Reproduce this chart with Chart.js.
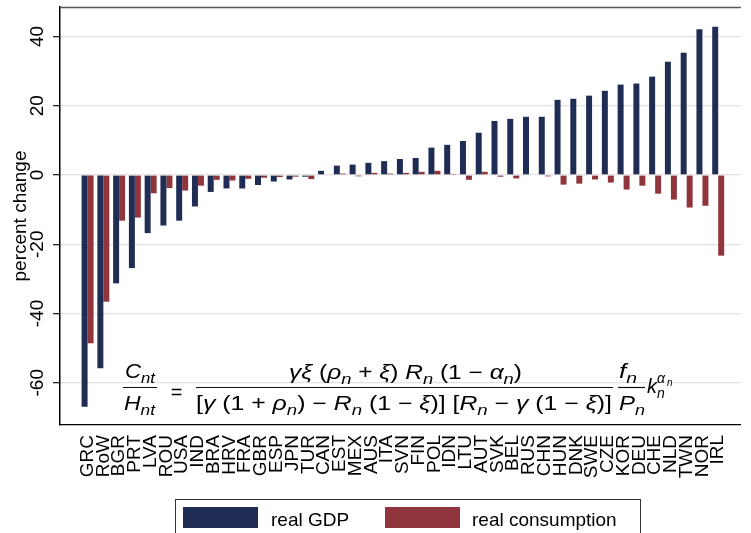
<!DOCTYPE html>
<html>
<head>
<meta charset="utf-8">
<title>Real GDP and real consumption, percent change</title>
<script src="https://cdn.jsdelivr.net/npm/chart.js@4.4.1/dist/chart.umd.min.js"></script>
<style>
  html, body { margin: 0; padding: 0; background: #fff; }
  #wrap { width: 751px; height: 533px; }
</style>
</head>
<body>
<div id="wrap"><canvas id="chart" width="751" height="533"></canvas></div>
<script>
// Data
const countries = ['GRC', 'RoW', 'BGR', 'PRT', 'LVA', 'ROU', 'USA', 'IND', 'BRA', 'HRV',
  'FRA', 'GBR', 'ESP', 'JPN', 'TUR', 'CAN', 'EST', 'MEX', 'AUS', 'ITA',
  'SVN', 'FIN', 'POL', 'IDN', 'LTU', 'AUT', 'SVK', 'BEL', 'RUS', 'CHN',
  'HUN', 'DNK', 'SWE', 'CZE', 'KOR', 'DEU', 'CHE', 'NLD', 'TWN', 'NOR', 'IRL'];

const realGdp = [-66.9, -55.8, -31.3, -26.9, -16.8, -14.6, -13.2, -9.1, -4.9, -3.9,
  -3.9, -2.9, -1.9, -1.3, -0.5, 1.2, 2.7, 3.0, 3.5, 4.0,
  4.6, 4.9, 7.9, 8.7, 9.8, 12.2, 15.6, 16.2, 16.8, 16.8,
  21.7, 22.0, 22.9, 24.3, 26.1, 26.4, 28.4, 32.7, 35.3, 42.1, 42.8];

const realConsumption = [-48.6, -36.6, -13.2, -12.3, -5.3, -3.8, -4.5, -3.1, -1.4, -1.6,
  -1.1, -0.8, -0.6, -0.5, -1.2, -0.2, 0.4, -0.4, 0.6, 0.4,
  0.6, 0.9, 1.2, 0.3, -1.4, 0.9, -0.5, -1.0, 0.2, -0.4,
  -2.8, -2.5, -1.3, -2.2, -4.2, -3.1, -5.4, -7.1, -9.4, -8.9, -23.3];

const yTicks = [-60, -40, -20, 0, 20, 40];
const seriesNames = ['real GDP', 'real consumption'];
const yTitle = 'percent change';

const NAVY = '#1f2d55';
const MAROON = '#90353b';
const FONT = '"Liberation Sans", Arial, Helvetica, sans-serif';
const MATH_FONT = '"Liberation Sans", "DejaVu Sans", sans-serif';

// draws a run of math pieces, stretched to fit between x0 and x1
// kinds: v = italic variable, r = upright, s = subscript
function drawMath(ctx, parts, x0, x1, baseline, size) {
    const fonts = {
        v: `italic ${size}px ${MATH_FONT}`,
        r: `${size}px ${MATH_FONT}`,
        s: `italic ${Math.round(size * 0.74)}px ${MATH_FONT}`
    };
    const shift = { v: 0, r: 0, s: size * 0.25 };
    let total = 0;
    const widths = parts.map(([t, k]) => {
        ctx.font = fonts[k];
        const w = ctx.measureText(t).width;
        total += w;
        return w;
    });
    ctx.save();
    ctx.translate(x0, baseline);
    ctx.scale((x1 - x0) / total, 1);
    ctx.textAlign = 'left';
    ctx.textBaseline = 'alphabetic';
    let x = 0;
    parts.forEach(([t, k], i) => {
        ctx.font = fonts[k];
        ctx.fillText(t, x, shift[k]);
        x += widths[i];
    });
    ctx.restore();
}

function fracBar(ctx, x0, x1, y) {
    ctx.save();
    ctx.strokeStyle = '#111';
    ctx.lineWidth = 1.2;
    ctx.beginPath();
    ctx.moveTo(x0, y);
    ctx.lineTo(x1, y);
    ctx.stroke();
    ctx.restore();
}

const formulaPlugin = {
    id: 'formula',
    afterDatasetsDraw(chart) {
        const ctx = chart.ctx;
        ctx.save();
        ctx.fillStyle = '#000';
        const size = 20;
        const barY = 387.5;

        drawMath(ctx, [['C', 'v'], ['nt', 's']], 125, 155, 378, size);
        drawMath(ctx, [['H', 'v'], ['nt', 's']], 124, 155, 410, size);
        fracBar(ctx, 123, 157, barY);

        ctx.font = `20px ${MATH_FONT}`;
        ctx.textAlign = 'center';
        ctx.fillText('=', 176.5, 399);

        drawMath(ctx, [['γξ', 'v'], [' (', 'r'], ['ρ', 'v'], ['n', 's'], [' + ', 'r'], ['ξ', 'v'],
            [') ', 'r'], ['R', 'v'], ['n', 's'], [' (1 − ', 'r'], ['α', 'v'], ['n', 's'], [')', 'r']],
            289, 522, 379, size);
        drawMath(ctx, [['[', 'r'], ['γ', 'v'], [' (1 + ', 'r'], ['ρ', 'v'], ['n', 's'], [') − ', 'r'],
            ['R', 'v'], ['n', 's'], [' (1 − ', 'r'], ['ξ', 'v'], [')] [', 'r'], ['R', 'v'], ['n', 's'],
            [' − ', 'r'], ['γ', 'v'], [' (1 − ', 'r'], ['ξ', 'v'], [')]', 'r']],
            196, 612, 410, size);
        fracBar(ctx, 196, 613, barY);

        drawMath(ctx, [['f', 'v'], ['n', 's']], 619, 637, 378, size);
        drawMath(ctx, [['P', 'v'], ['n', 's']], 619, 645, 410, size);
        fracBar(ctx, 618, 645, barY);

        // k_n^{alpha_n}
        ctx.textAlign = 'left';
        ctx.font = `italic ${size}px ${MATH_FONT}`;
        ctx.fillText('k', 647, 393);
        ctx.font = `italic 14px ${MATH_FONT}`;
        ctx.fillText('n', 657, 398);
        ctx.fillText('α', 657, 383);
        ctx.font = `italic 10px ${MATH_FONT}`;
        ctx.fillText('n', 667, 386);
        ctx.restore();
    }
};

const framePlugin = {
    id: 'frame',
    afterDraw(chart) {
        const ctx = chart.ctx;
        const area = chart.chartArea;
        const y = chart.scales.y;
        ctx.save();

        // top edge of the plot region
        ctx.strokeStyle = '#555';
        ctx.lineWidth = 1.5;
        ctx.beginPath();
        ctx.moveTo(area.left, area.top + 0.5);
        ctx.lineTo(area.right, area.top + 0.5);
        ctx.stroke();

        // rotated y tick labels
        ctx.fillStyle = '#000';
        ctx.font = `19px ${FONT}`;
        ctx.textAlign = 'center';
        ctx.textBaseline = 'alphabetic';
        yTicks.forEach(v => {
            ctx.save();
            ctx.translate(43, y.getPixelForValue(v));
            ctx.rotate(-Math.PI / 2);
            ctx.fillText(String(v), 0, 0);
            ctx.restore();
        });

        // y title
        ctx.save();
        ctx.translate(26, (area.top + area.bottom) / 2);
        ctx.rotate(-Math.PI / 2);
        ctx.fillText(yTitle, 0, 0);
        ctx.restore();

        // legend
        ctx.strokeStyle = '#333';
        ctx.lineWidth = 1;
        ctx.strokeRect(175.5, 499.5, 465, 40);
        const ds = chart.data.datasets;
        const swatchX = [183, 385];
        const textX = [271, 472];
        ctx.textAlign = 'left';
        ds.forEach((d, i) => {
            ctx.fillStyle = d.backgroundColor;
            ctx.fillRect(swatchX[i], 507, 75, 21);
            ctx.fillStyle = '#000';
            ctx.fillText(d.label, textX[i], 526);
        });
        ctx.restore();
    }
};

const ctx = document.getElementById('chart').getContext('2d');
new Chart(ctx, {
    type: 'bar',
    data: {
        datasets: [{
            label: seriesNames[0],
            data: realGdp.map((v, i) => ({ x: i, y: v })),
            backgroundColor: NAVY,
            categoryPercentage: 0.76,
            barPercentage: 1
        }, {
            label: seriesNames[1],
            data: realConsumption.map((v, i) => ({ x: i, y: v })),
            backgroundColor: MAROON,
            categoryPercentage: 0.76,
            barPercentage: 1
        }]
    },
    options: {
        responsive: false,
        animation: false,
        devicePixelRatio: 1,
        layout: { padding: { top: 7, right: 0, left: 0, bottom: 0 } },
        plugins: {
            legend: { display: false },
            tooltip: { enabled: false }
        },
        scales: {
            x: {
                type: 'linear',
                min: -1.75,
                max: 41.44,
                offset: false,
                grid: { display: false, drawTicks: false },
                border: { display: true, color: '#000', width: 1.3 },
                afterBuildTicks: s => { s.ticks = countries.map((c, i) => ({ value: i })); },
                afterFit: s => { s.height = 108; },
                ticks: {
                    autoSkip: false,
                    minRotation: 90,
                    maxRotation: 90,
                    padding: 10,
                    color: '#000',
                    font: { family: FONT, size: 19 },
                    callback: v => countries[v]
                }
            },
            y: {
                min: -72.2,
                max: 48.5,
                afterBuildTicks: s => { s.ticks = yTicks.map(v => ({ value: v })); },
                afterFit: s => { s.width = 60; },
                grid: { color: '#e2e2e2', lineWidth: 1.3, tickColor: '#222', tickLength: 7, drawTicks: true },
                border: { display: true, color: '#000', width: 1.5 },
                ticks: { display: false }
            }
        }
    },
    plugins: [formulaPlugin, framePlugin]
});
</script>
</body>
</html>
